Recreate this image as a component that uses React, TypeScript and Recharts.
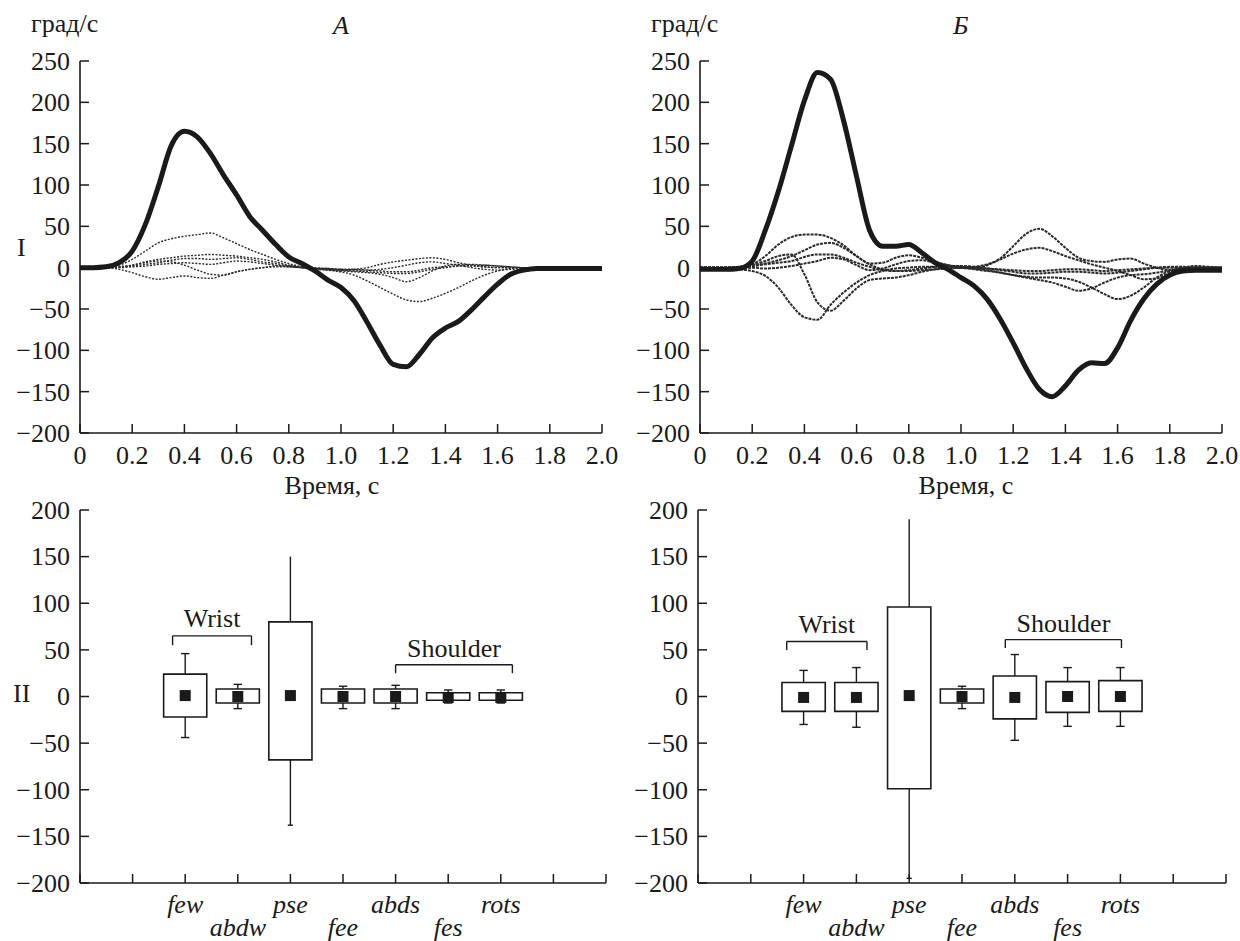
import React from 'react';
import {
  LineChart, Line, XAxis, YAxis, ScatterChart, Scatter,
  ReferenceArea, ReferenceLine, ReferenceDot,
} from 'recharts';

const FONT = '"Liberation Serif", serif';
const INK = '#1a1a1a';
const FS = 26;

// time grid, s
const TIME = [
  0, 0.05, 0.1, 0.15, 0.2, 0.25, 0.3, 0.35, 0.4, 0.45,
  0.5, 0.55, 0.6, 0.65, 0.7, 0.75, 0.8, 0.85, 0.9, 0.95,
  1.0, 1.05, 1.1, 1.15, 1.2, 1.25, 1.3, 1.35, 1.4, 1.45,
  1.5, 1.55, 1.6, 1.65, 1.7, 1.75, 1.8, 1.85, 1.9, 1.95, 2.0,
];

// panel A, angular velocity, deg/s
const A_MAIN = [0, 0, 1, 6, 20, 52, 98, 148, 165, 158, 138, 112, 88, 62, 45, 28, 13, 5, -4, -15, -24, -40, -66, -94, -117, -120, -105, -85, -73, -65, -51, -35, -20, -8, -3, -1, -1, -1, -1, -1, -1];
const A_S1 = [0, 0, 1, 3, 10, 20, 30, 35, 38, 40, 42, 36, 29, 22, 16, 10, 5, 1, -1, -3, -5, -9, -16, -24, -32, -39, -41, -37, -31, -24, -16, -9, -4, -1, 0, 0, 0, 0, 0, 0, 0];
const A_S2 = [0, 0, 0, 1, 3, 7, 10, 12, 14, 15, 16, 15, 14, 12, 10, 7, 3, 0, -2, -3, -4, -5, -6, -8, -12, -17, -12, -4, 2, 4, 4, 3, 2, 1, 0, 0, 0, 0, 0, 0, 0];
const A_S3 = [0, 0, 0, -2, -6, -11, -14, -12, -10, -12, -13, -9, -5, -2, 0, 1, 1, 0, -1, -2, -3, -2, 0, 4, 7, 9, 11, 12, 10, 6, 3, 1, 0, 0, 0, 0, 0, 0, 0, 0, 0];
const A_S4 = [0, 0, 0, 1, 3, 6, 8, 7, 3, -3, -8, -9, -5, -2, 0, 2, 2, 1, 0, -1, -2, -3, -3, -2, 0, 3, 6, 7, 5, 3, 0, -2, -3, -2, -1, 0, 0, 0, 0, 0, 0];
const A_S5 = [0, 0, 0, 0, 1, 2, 4, 5, 6, 5, 4, 6, 8, 7, 5, 3, 1, 0, -1, -2, -3, -4, -5, -6, -7, -7, -5, -2, 0, 2, 3, 3, 2, 1, 0, 0, 0, 0, 0, 0, 0];
const A_S6 = [0, 0, 0, 1, 2, 4, 6, 9, 11, 11, 10, 11, 12, 10, 7, 5, 2, 0, -1, -1, -2, -2, -3, -4, -5, -5, -3, 0, 1, 2, 2, 1, 0, 0, 0, 0, 0, 0, 0, 0, 0];

// panel Б
const B_MAIN = [-2, -2, -2, -1, 8, 45, 92, 147, 202, 236, 228, 178, 110, 45, 26, 26, 28, 18, 6, -2, -12, -22, -38, -62, -91, -122, -147, -156, -143, -124, -115, -116, -97, -64, -38, -20, -9, -4, -3, -3, -3];
const B_S1 = [0, 0, -1, -2, -4, -10, -24, -45, -60, -63, -45, -30, -18, -9, -4, -1, 0, 1, 1, 1, 0, 0, 3, 11, 26, 41, 47, 38, 24, 12, 8, 7, 10, 11, 5, 0, -3, -2, -1, 0, 0];
const B_S2 = [0, 0, 0, 1, 4, 14, 28, 37, 40, 40, 36, 27, 14, 4, -2, -4, -4, -3, -2, -1, 0, 1, 4, 10, 17, 22, 24, 20, 14, 9, 4, 0, -4, -9, -14, -13, -6, -1, 0, 0, 0];
const B_S3 = [0, 0, 0, 1, 3, 8, 14, 16, -8, -42, -52, -40, -25, -15, -13, -12, -9, -5, -2, 0, 0, -1, -3, -6, -9, -12, -15, -18, -23, -28, -25, -18, -12, -9, -8, -6, -3, -1, 0, 0, 0];
const B_S4 = [0, 0, 0, 0, 2, 5, 9, 14, 21, 28, 30, 24, 14, 5, 6, 12, 15, 12, 7, 3, 0, -2, -4, -6, -9, -11, -12, -12, -13, -17, -24, -32, -38, -34, -24, -12, -4, 0, 2, 1, 0];
const B_S5 = [0, 0, 0, 0, 2, 4, 6, 8, 13, 16, 16, 12, 6, 1, -3, -4, -3, -1, 1, 2, 2, 1, -1, -3, -5, -7, -7, -6, -5, -5, -6, -7, -6, -4, -2, 0, 1, 1, 0, 0, 0];
const B_S6 = [0, 0, 0, 0, 0, -1, 0, 2, 5, 8, 12, 10, 3, -3, -1, 4, 8, 9, 6, 3, 1, 0, -1, -2, -3, -4, -4, -3, -2, -2, -3, -4, -3, -2, -1, 0, 0, 0, 0, 0, 0];

const TOP_X_TICKS = [0, 0.2, 0.4, 0.6, 0.8, 1.0, 1.2, 1.4, 1.6, 1.8, 2.0];
const TOP_Y_TICKS = [-200, -150, -100, -50, 0, 50, 100, 150, 200, 250];

// box plots (panel II)
const CATS = ['few', 'abdw', 'pse', 'fee', 'abds', 'fes', 'rots'];
const CAT_POS = [2, 3, 4, 5, 6, 7, 8];
const TOP_CAP = [true, true, false, true, true, true, true];

const A_MIN = [-44, -13, -138, -13, -13, -7, -7];
const A_Q1 = [-22, -7, -68, -7, -7, -4, -4];
const A_MID = [1, 0, 1, 0, 0, -1, -1];
const A_Q3 = [24, 8, 80, 8, 8, 4, 4];
const A_MAX = [46, 13, 150, 11, 12, 7, 7];

const B_MIN = [-30, -33, -195, -13, -47, -32, -32];
const B_Q1 = [-16, -16, -99, -7, -24, -17, -16];
const B_MID = [-1, -1, 1, 0, -1, 0, 0];
const B_Q3 = [15, 15, 96, 8, 22, 16, 17];
const B_MAX = [28, 31, 190, 11, 45, 31, 31];

const A_GROUPS = [
  { name: 'Wrist', from: 1.76, to: 3.26, y: 65, tip: 55, textY: 84 },
  { name: 'Shoulder', from: 6.0, to: 8.22, y: 34, tip: 25, textY: 52 },
];
const B_GROUPS = [
  { name: 'Wrist', from: 1.68, to: 3.2, y: 59, tip: 50, textY: 78 },
  { name: 'Shoulder', from: 5.82, to: 8.02, y: 61, tip: 52, textY: 79 },
];

const BOT_X_TICKS = [0, 1, 2, 3, 4, 5, 6, 7, 8, 9, 10];
const BOT_Y_TICKS = [-200, -150, -100, -50, 0, 50, 100, 150, 200];

const fmtNum = (v: number) => (v < 0 ? '\u2212' + Math.abs(v) : String(v));
const fmtTime = (v: number) => (v === 0 ? '0' : v.toFixed(1));

const YTick = (props: any) => {
  const { x, y, payload } = props;
  return (
    <g>
      <line x1={x} x2={x + 9} y1={y} y2={y} stroke={INK} strokeWidth={1.5} />
      <text x={x - 10} y={y} dy="0.34em" textAnchor="end" fontSize={FS} fontFamily={FONT} fill={INK}>
        {fmtNum(payload.value)}
      </text>
    </g>
  );
};

const TimeTick = (props: any) => {
  const { x, y, payload } = props;
  return (
    <g>
      <line x1={x} x2={x} y1={y - 9} y2={y} stroke={INK} strokeWidth={1.5} />
      <text x={x} y={y + 31} textAnchor="middle" fontSize={FS} fontFamily={FONT} fill={INK}>
        {fmtTime(payload.value)}
      </text>
    </g>
  );
};

const CatTick = (props: any) => {
  const { x, y, payload } = props;
  const i = CAT_POS.indexOf(payload.value);
  return (
    <g>
      <line x1={x} x2={x} y1={y - 9} y2={y} stroke={INK} strokeWidth={1.5} />
      {i >= 0 && (
        <text x={x} y={y + (i % 2 === 0 ? 30 : 53)} textAnchor="middle" fontSize={FS}
          fontStyle="italic" fontFamily={FONT} fill={INK}>
          {CATS[i]}
        </text>
      )}
    </g>
  );
};

const SquareMark = (props: any) => {
  const { cx, cy } = props;
  return <rect x={cx - 5.5} y={cy - 5.5} width={11} height={11} fill={INK} />;
};

const axisLine = { stroke: INK, strokeWidth: 1.6 };

function VelocityPanel({ main, thin, thinWidth, thinDash }: {
  main: number[]; thin: number[][]; thinWidth: number; thinDash: string;
}) {
  const rows = TIME.map((t, i) => {
    const r: any = { t, main: main[i] };
    thin.forEach((s, k) => { r['s' + k] = s[i]; });
    return r;
  });
  return (
    <LineChart width={620} height={470} data={rows}
      margin={{ top: 61, right: 18, bottom: 7, left: 0 }}>
      <XAxis dataKey="t" type="number" domain={[0, 2]} ticks={TOP_X_TICKS}
        interval={0} tickSize={0} tickMargin={0} tickLine={false}
        axisLine={axisLine} tick={<TimeTick />} height={30} />
      <YAxis type="number" domain={[-200, 250]} ticks={TOP_Y_TICKS}
        interval={0} tickSize={0} tickMargin={0} tickLine={false}
        axisLine={axisLine} tick={<YTick />} width={80} />
      {thin.map((_, k) => (
        <Line key={k} dataKey={'s' + k} type="monotone" dot={false}
          stroke="#2a2a2a" strokeWidth={thinWidth} strokeDasharray={thinDash}
          isAnimationActive={false} />
      ))}
      <Line dataKey="main" type="monotone" dot={false} stroke={INK}
        strokeWidth={5} isAnimationActive={false} />
    </LineChart>
  );
}

function BoxPanel({ lo, q1, mid, q3, hi, groups, axisW }: {
  lo: number[]; q1: number[]; mid: number[]; q3: number[]; hi: number[];
  groups: typeof A_GROUPS; axisW: number;
}) {
  const marks = CAT_POS.map((x, i) => ({ x, y: mid[i] }));
  const lineStyle = { stroke: INK, strokeWidth: 1.4 };
  return (
    <ScatterChart width={620} height={471}
      margin={{ top: 40, right: 14, bottom: 0, left: 0 }}>
      <XAxis dataKey="x" type="number" domain={[0, 10]} ticks={BOT_X_TICKS}
        interval={0} tickSize={0} tickMargin={0} tickLine={false}
        axisLine={axisLine} tick={<CatTick />} height={58} />
      <YAxis dataKey="y" type="number" domain={[-200, 200]} ticks={BOT_Y_TICKS}
        interval={0} tickSize={0} tickMargin={0} tickLine={false}
        axisLine={axisLine} tick={<YTick />} width={axisW} />
      {CAT_POS.map((x, i) => (
        <ReferenceArea key={'box' + i} x1={x - 0.41} x2={x + 0.41} y1={q1[i]} y2={q3[i]}
          fill="none" stroke={INK} strokeWidth={1.6} />
      ))}
      {CAT_POS.map((x, i) => (
        <ReferenceLine key={'wu' + i} segment={[{ x, y: q3[i] }, { x, y: hi[i] }]} {...lineStyle} />
      ))}
      {CAT_POS.map((x, i) => (
        <ReferenceLine key={'wl' + i} segment={[{ x, y: q1[i] }, { x, y: lo[i] }]} {...lineStyle} />
      ))}
      {CAT_POS.map((x, i) => TOP_CAP[i] && (
        <ReferenceLine key={'cu' + i} segment={[{ x: x - 0.08, y: hi[i] }, { x: x + 0.08, y: hi[i] }]} {...lineStyle} />
      ))}
      {CAT_POS.map((x, i) => (
        <ReferenceLine key={'cl' + i}
          segment={[{ x: x - (TOP_CAP[i] ? 0.08 : 0.05), y: lo[i] }, { x: x + (TOP_CAP[i] ? 0.08 : 0.05), y: lo[i] }]}
          {...lineStyle} />
      ))}
      {groups.map((g) => (
        <ReferenceLine key={g.name + 'h'} segment={[{ x: g.from, y: g.y }, { x: g.to, y: g.y }]} {...lineStyle} />
      ))}
      {groups.map((g) => (
        <ReferenceLine key={g.name + 'l'} segment={[{ x: g.from, y: g.y }, { x: g.from, y: g.tip }]} {...lineStyle} />
      ))}
      {groups.map((g) => (
        <ReferenceLine key={g.name + 'r'} segment={[{ x: g.to, y: g.y }, { x: g.to, y: g.tip }]} {...lineStyle} />
      ))}
      {groups.map((g) => (
        <ReferenceDot key={g.name + 't'} x={(g.from + g.to) / 2} y={g.textY} r={1}
          fill="none" stroke="none"
          label={{ value: g.name, position: 'center', fill: INK, fontSize: FS, fontFamily: FONT }} />
      ))}
      <Scatter data={marks} shape={<SquareMark />} isAnimationActive={false} />
    </ScatterChart>
  );
}

const txt = (left: number, top: number, s: string, extra: React.CSSProperties = {}) => (
  <div style={{
    position: 'absolute', left, top, fontFamily: FONT, fontSize: FS, lineHeight: '26px',
    color: INK, whiteSpace: 'nowrap', ...extra,
  }}>{s}</div>
);

export default function App() {
  return (
    <div style={{ position: 'absolute', left: 0, top: 0, width: 1240, height: 941, background: '#fff', overflow: 'hidden', fontFamily: FONT }}>
      <div style={{ position: 'absolute', left: 0, top: 0 }}>
        <VelocityPanel main={A_MAIN} thin={[A_S1, A_S2, A_S3, A_S4, A_S5, A_S6]} thinWidth={1.4} thinDash="2 1.5" />
      </div>
      <div style={{ position: 'absolute', left: 620, top: 0 }}>
        <VelocityPanel main={B_MAIN} thin={[B_S1, B_S2, B_S3, B_S4, B_S5, B_S6]} thinWidth={2} thinDash="3 1" />
      </div>
      <div style={{ position: 'absolute', left: 0, top: 470 }}>
        <BoxPanel lo={A_MIN} q1={A_Q1} mid={A_MID} q3={A_Q3} hi={A_MAX} groups={A_GROUPS} axisW={80} />
      </div>
      <div style={{ position: 'absolute', left: 620, top: 470 }}>
        <BoxPanel lo={B_MIN} q1={B_Q1} mid={B_MID} q3={B_Q3} hi={B_MAX} groups={B_GROUPS} axisW={78} />
      </div>
      {txt(31, 11, 'град/с')}
      {txt(333, 13, 'А', { fontStyle: 'italic' })}
      {txt(17, 235, 'I')}
      {txt(332, 473, 'Время, с', { transform: 'translateX(-50%)' })}
      {txt(651, 11, 'град/с')}
      {txt(953, 13, 'Б', { fontStyle: 'italic' })}
      {txt(966, 473, 'Время, с', { transform: 'translateX(-50%)' })}
      {txt(13, 681, 'II')}
    </div>
  );
}
